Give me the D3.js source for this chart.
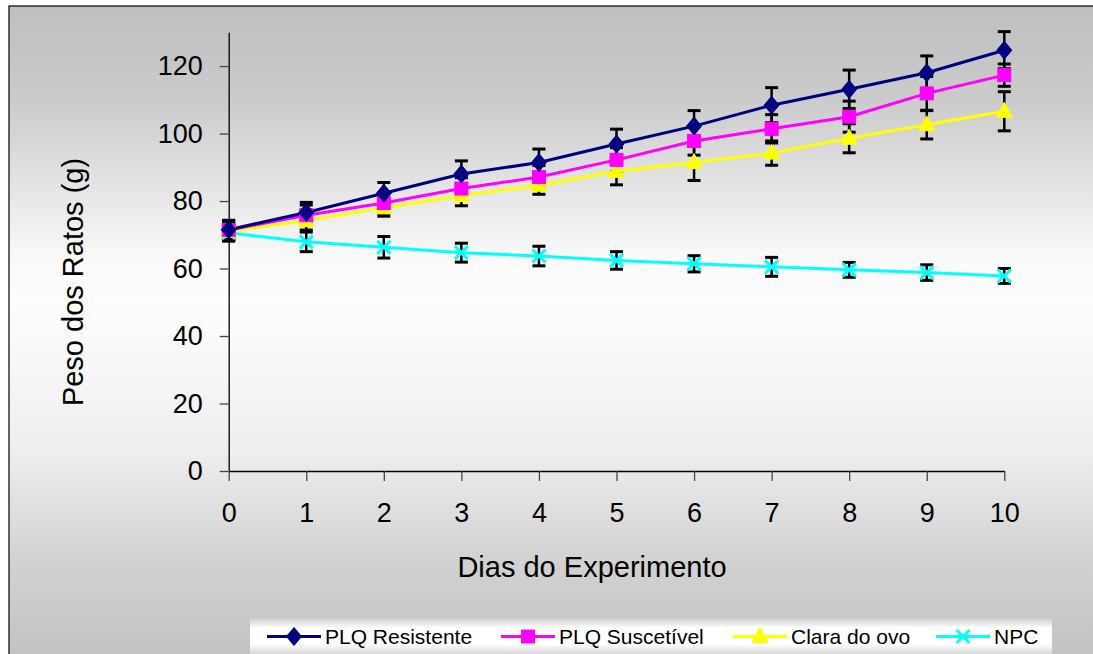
<!DOCTYPE html>
<html>
<head>
<meta charset="utf-8">
<script src="https://cdn.jsdelivr.net/npm/d3@7"></script>
<style>
  html, body { margin: 0; padding: 0; background: #ffffff; }
  svg { display: block; font-family: "Liberation Sans", Arial, sans-serif; }
</style>
</head>
<body>
<svg id="chart" width="1093" height="654"></svg>
<script>
// ---- data ----
const days = [0, 1, 2, 3, 4, 5, 6, 7, 8, 9, 10];
const yTicks = [0, 20, 40, 60, 80, 100, 120];
const seriesNames = ["PLQ Resistente", "PLQ Suscetível", "Clara do ovo", "NPC"];
const plqResistente = [71.5, 76.6, 82.3, 88.0, 91.4, 96.9, 102.2, 108.4, 113.1, 118.0, 124.7];
const plqSuscetivel = [71.4, 75.8, 79.4, 83.7, 87.1, 92.2, 97.8, 101.4, 105.0, 111.9, 117.3];
const claraDoOvo   = [71.0, 74.2, 78.0, 81.6, 84.7, 88.8, 91.4, 94.2, 98.6, 102.6, 106.6];
const npc          = [70.6, 67.9, 66.3, 64.7, 63.7, 62.4, 61.4, 60.5, 59.6, 58.8, 57.8];
const errResistente = [2.8, 3.0, 3.2, 3.9, 4.0, 4.4, 4.6, 5.2, 5.7, 5.0, 5.5];
const errSuscetivel = [2.8, 3.0, 3.0, 3.2, 3.4, 3.6, 4.2, 4.2, 4.6, 5.0, 3.3];
const errClara      = [2.6, 2.8, 2.5, 3.0, 2.7, 4.0, 5.3, 3.6, 4.3, 4.2, 5.8];
const errNpc        = [2.5, 2.9, 3.2, 2.8, 2.9, 2.6, 2.4, 2.8, 2.2, 2.3, 2.2];

const seriesValues = [plqResistente, plqSuscetivel, claraDoOvo, npc];
const seriesErrors = [errResistente, errSuscetivel, errClara, errNpc];
const seriesColors = ["#000080", "#ff00ff", "#ffff00", "#00ffff"];
const seriesMarkers = ["diamond", "square", "triangle", "x"];

// ---- layout ----
const svg = d3.select("#chart");
const defs = svg.append("defs");

const bg = defs.append("linearGradient").attr("id", "bgGrad")
  .attr("gradientUnits", "userSpaceOnUse").attr("x1", 0).attr("x2", 0).attr("y1", 6).attr("y2", 654);
[[6, "#bfbfbf"], [100, "#cbcbcb"], [200, "#e8e8e8"], [260, "#fafafa"], [300, "#fdfdfd"],
 [340, "#fafafa"], [450, "#eeeeee"], [560, "#d2d2d2"], [654, "#c3c3c3"]].forEach(([yy, c]) => {
  bg.append("stop").attr("offset", ((yy - 6) / 648)).attr("stop-color", c);
});

const lg = defs.append("linearGradient").attr("id", "legGrad")
  .attr("gradientUnits", "userSpaceOnUse").attr("x1", 0).attr("x2", 0).attr("y1", 617).attr("y2", 662);
[[617, "#c6c6c6"], [628, "#ffffff"], [644, "#ffffff"], [662, "#b8b8b8"]].forEach(([yy, c]) => {
  lg.append("stop").attr("offset", ((yy - 617) / 45)).attr("stop-color", c);
});

svg.append("rect").attr("x", 0).attr("y", 0).attr("width", 1093).attr("height", 654).attr("fill", "#ffffff");
svg.append("rect").attr("x", 9).attr("y", 6).attr("width", 1100).attr("height", 660)
  .attr("fill", "url(#bgGrad)").attr("stroke", "#000").attr("stroke-width", 1.2);

const x = d3.scaleLinear().domain([0, 10]).range([228.7, 1004.3]);
const y = d3.scaleLinear().domain([0, 130]).range([471, 32.3]);

// axes
const yAxis = svg.append("g").attr("transform", `translate(${x(0)},0)`)
  .call(d3.axisLeft(y).tickValues(yTicks).tickSize(9).tickSizeOuter(0).tickPadding(17));
const xAxis = svg.append("g").attr("transform", `translate(0,${y(0)})`)
  .call(d3.axisBottom(x).tickValues(days).tickSize(10).tickSizeOuter(0).tickPadding(22).tickFormat(d3.format("d")));
[yAxis, xAxis].forEach(g => {
  g.select(".domain").attr("stroke", "#000").attr("stroke-width", 1.3);
  g.selectAll(".tick line").attr("stroke", "#444").attr("stroke-width", 1.3);
  g.selectAll(".tick text").attr("fill", "#000").style("font-size", "27px")
    .style("font-family", '"Liberation Sans", Arial, sans-serif');
});

// axis titles
svg.append("text").attr("x", 592).attr("y", 577).attr("text-anchor", "middle")
  .style("font-size", "29px").attr("fill", "#000").text("Dias do Experimento");
svg.append("text").attr("transform", "translate(83,282) rotate(-90)").attr("text-anchor", "middle")
  .style("font-size", "29px").attr("fill", "#000").text("Peso dos Ratos (g)");

// marker drawing
function drawMarker(g, type, color, cx, cy) {
  if (type === "diamond") {
    g.append("path").attr("d", `M${cx},${cy - 9}L${cx + 7.5},${cy}L${cx},${cy + 9}L${cx - 7.5},${cy}Z`)
      .attr("fill", color).attr("stroke", color).attr("stroke-width", 1);
  } else if (type === "square") {
    g.append("rect").attr("x", cx - 6.5).attr("y", cy - 6.5).attr("width", 13).attr("height", 13)
      .attr("fill", color).attr("stroke", color).attr("stroke-width", 1);
  } else if (type === "triangle") {
    g.append("path").attr("d", `M${cx},${cy - 9}L${cx + 8},${cy + 6}L${cx - 8},${cy + 6}Z`)
      .attr("fill", color).attr("stroke", color).attr("stroke-width", 1);
  } else {
    const r = 6.5;
    g.append("path").attr("d", `M${cx - r},${cy - r}L${cx + r},${cy + r}M${cx - r},${cy + r}L${cx + r},${cy - r}`)
      .attr("stroke", color).attr("stroke-width", 3).attr("fill", "none");
  }
}

// error bars
const errG = svg.append("g");
seriesValues.forEach((vals, si) => {
  vals.forEach((v, i) => {
    const e = seriesErrors[si][i];
    const cx = x(days[i]), y1 = y(v + e), y2 = y(v - e);
    errG.append("line").attr("x1", cx).attr("x2", cx).attr("y1", y1).attr("y2", y2)
      .attr("stroke", "#000").attr("stroke-width", 2.5);
    [y1, y2].forEach(yy => errG.append("line").attr("x1", cx - 6.5).attr("x2", cx + 6.5)
      .attr("y1", yy).attr("y2", yy).attr("stroke", "#000").attr("stroke-width", 3));
  });
});

// lines and markers
const line = d3.line().x((d, i) => x(days[i])).y(d => y(d));
seriesValues.slice().reverse().forEach((vals, ri) => {
  const si = seriesValues.length - 1 - ri;
  svg.append("path").datum(vals).attr("d", line).attr("fill", "none")
    .attr("stroke", seriesColors[si]).attr("stroke-width", 3);
});
seriesValues.slice().reverse().forEach((vals, ri) => {
  const si = seriesValues.length - 1 - ri;
  const g = svg.append("g");
  vals.forEach((v, i) => drawMarker(g, seriesMarkers[si], seriesColors[si], x(days[i]), y(v)));
});

// legend
svg.append("rect").attr("x", 250).attr("y", 617).attr("width", 802).attr("height", 45).attr("fill", "url(#legGrad)");
const legendX = [267, 501, 733, 936];
seriesNames.forEach((name, si) => {
  const lx = legendX[si], ly = 636.5;
  const g = svg.append("g");
  g.append("line").attr("x1", lx).attr("x2", lx + 54).attr("y1", ly).attr("y2", ly)
    .attr("stroke", seriesColors[si]).attr("stroke-width", 3);
  drawMarker(g, seriesMarkers[si], seriesColors[si], lx + 27, ly);
  g.append("text").attr("x", lx + 58).attr("y", ly).attr("dy", "0.35em")
    .style("font-size", "21px").attr("fill", "#000").text(name);
});
</script>
</body>
</html>
